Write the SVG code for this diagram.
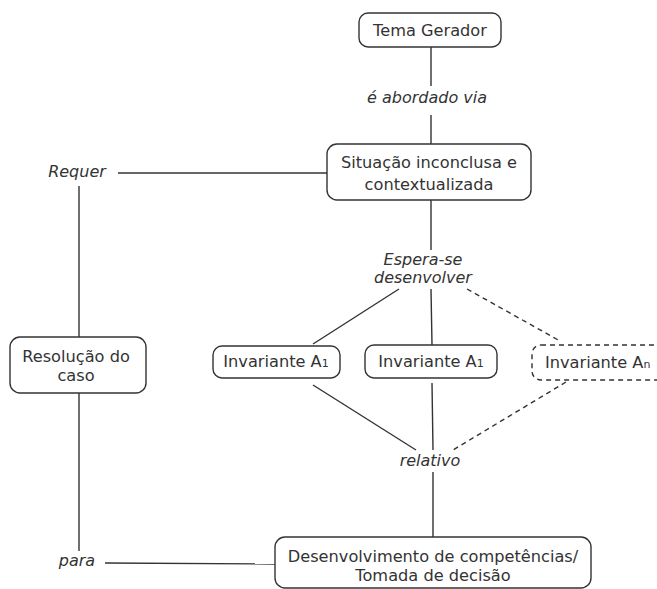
<svg xmlns="http://www.w3.org/2000/svg" width="657" height="589" viewBox="0 0 657 589">
<style>
.box{fill:#fff;stroke:#333;stroke-width:1.4}
.dash{stroke-dasharray:5,4}
.t{font-family:"DejaVu Sans",Verdana,sans-serif;font-size:16.2px;fill:#333;text-anchor:middle}
.l{font-family:"DejaVu Sans",Verdana,sans-serif;font-size:16px;fill:#333;text-anchor:middle;font-style:italic}
.c{stroke:#333;stroke-width:1.4;fill:none}
.sub{font-size:11px}
</style>
<rect width="657" height="589" fill="#fff"/>
<g id="connectors">
<line class="c" x1="431" y1="47" x2="431" y2="86"/>
<line class="c" x1="431" y1="115" x2="431" y2="144"/>
<line class="c" x1="431" y1="200" x2="431" y2="250"/>
<line class="c" x1="118" y1="173" x2="327" y2="173"/>
<line class="c" x1="79" y1="186" x2="79" y2="337"/>
<line class="c" x1="79" y1="393" x2="79" y2="551"/>
<line class="c" x1="105" y1="563" x2="275" y2="564"/>
<line class="c" x1="399" y1="289" x2="313" y2="344"/>
<line class="c" x1="431" y1="289" x2="432" y2="345"/>
<line class="c dash" x1="467" y1="289" x2="560" y2="341"/>
<line class="c" x1="313" y1="385" x2="416" y2="450"/>
<line class="c" x1="432" y1="383" x2="433" y2="450"/>
<line class="c dash" x1="566" y1="382" x2="453" y2="450"/>
<line class="c" x1="433" y1="472" x2="433" y2="537"/>
</g>
<g id="labels">
<text class="l" x="427" y="103">é abordado via</text>
<text class="l" x="77" y="177">Requer</text>
<text class="l" x="423" y="265">Espera-se</text>
<text class="l" x="423" y="283">desenvolver</text>
<text class="l" x="430" y="466">relativo</text>
<text class="l" x="77" y="566">para</text>
</g>
<g id="tema">
<rect class="box" x="359" y="13" width="142" height="34" rx="9"/>
<text class="t" x="430" y="36">Tema Gerador</text>
</g>
<g id="situacao">
<rect class="box" x="327" y="144" width="204" height="56" rx="10"/>
<text class="t" x="429" y="168">Situação inconclusa e</text>
<text class="t" x="429" y="190">contextualizada</text>
</g>
<g id="resolucao">
<rect class="box" x="10" y="337" width="136" height="56" rx="10"/>
<text class="t" x="76" y="362">Resolução do</text>
<text class="t" x="76" y="381">caso</text>
</g>
<g id="inv1">
<rect class="box" x="213" y="346" width="127" height="32" rx="9"/>
<text class="t" x="276" y="367">Invariante A<tspan class="sub">1</tspan></text>
</g>
<g id="inv2">
<rect class="box" x="365" y="345" width="132" height="33" rx="9"/>
<text class="t" x="431" y="367">Invariante A<tspan class="sub">1</tspan></text>
</g>
<g id="invn">
<rect class="box dash" x="532" y="345" width="140" height="35" rx="9"/>
<text class="t" x="545" y="368" style="text-anchor:start">Invariante A<tspan class="sub">n</tspan></text>
</g>
<g id="desenvolvimento">
<rect class="box" x="275" y="537" width="316" height="51" rx="10"/>
<text class="t" x="433" y="562">Desenvolvimento de competências/</text>
<text class="t" x="433" y="581">Tomada de decisão</text>
</g>
</svg>
